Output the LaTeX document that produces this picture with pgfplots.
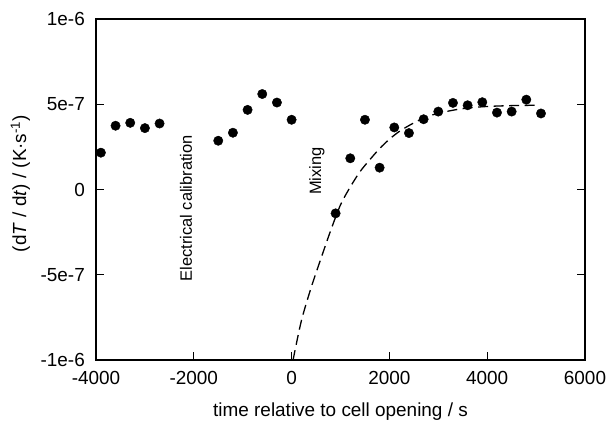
\documentclass[border=0pt]{standalone}
\usepackage{fontspec}
\setmainfont{Liberation Sans}
\usepackage{pgfplots}
\pgfplotsset{compat=1.18}

% measured dots
\pgfplotstableread{
t      r
-3900  2.16e-7
-3600  3.74e-7
-3300  3.91e-7
-3000  3.60e-7
-2700  3.87e-7
-1500  2.86e-7
-1200  3.33e-7
-900   4.67e-7
-600   5.60e-7
-300   5.10e-7
0      4.09e-7
900   -1.40e-7
1200   1.83e-7
1500   4.09e-7
1800   1.28e-7
2100   3.64e-7
2400   3.31e-7
2700   4.12e-7
3000   4.57e-7
3300   5.08e-7
3600   4.94e-7
3900   5.12e-7
4200   4.51e-7
4500   4.57e-7
4800   5.27e-7
5100   4.46e-7
}\dots

% dashed fit
\pgfplotstableread{
t      r
30    -10.0e-7
200   -7.70e-7
400   -5.75e-7
600   -4.05e-7
800   -2.40e-7
1000  -0.90e-7
1200   0.15e-7
1400   1.05e-7
1600   1.75e-7
1800   2.40e-7
2000   2.95e-7
2200   3.40e-7
2400   3.75e-7
2600   4.05e-7
2800   4.30e-7
3000   4.47e-7
3300   4.65e-7
3600   4.78e-7
4000   4.87e-7
4500   4.92e-7
4980   4.94e-7
}\fit

\begin{document}
\begin{tikzpicture}
\begin{axis}[
    name=ax,
    scale only axis,
    width=489bp, height=341bp,
    xmin=-4000, xmax=6000, ymin=-1e-6, ymax=1e-6,
    scaled y ticks=false, scaled x ticks=false,
    xtick={-4000,-2000,0,2000,4000,6000},
    xticklabels={-4000,-2000,0,2000,4000,6000},
    ytick={-1e-6,-5e-7,0,5e-7,1e-6},
    yticklabels={-1e-6,-5e-7,0,5e-7,1e-6},
    tick align=inside,
    xtick pos=left, ytick pos=both,
    xticklabel pos=left, yticklabel pos=left,
    major tick length=7.7bp,
    axis line style={line width=1.1bp},
    tick style={line width=1.1bp, black},
    every tick label/.append style={font=\fontsize{19}{22}\selectfont, inner sep=0pt},
    xticklabel style={anchor=center, yshift=-18bp},
    yticklabel style={anchor=east, xshift=-11bp},
    label style={font=\fontsize{19}{22}\selectfont},
    xlabel={time relative to cell opening / s},
    ylabel={(d\textit{T} / d\textit{t}) / (K·s\textsuperscript{-1})},
    xlabel style={at={(axis description cs:0.5,-0.1525)}, anchor=center},
    ylabel style={at={(axis description cs:-0.1544,0.5176)}, anchor=center, rotate=0},
    clip=true,
]
\addplot[only marks, mark=*, mark size=4.7bp, black] table[x=t, y=r] {\dots};
\addplot[black, line width=1.3bp, dash pattern=on 10bp off 5.5bp, smooth] table[x=t, y=r] {\fit};
\node[rotate=90, anchor=west, inner sep=0pt, font=\fontsize{16.5}{19}\selectfont]
    at (axis cs:-2160,-0.54e-6) {Electrical calibration};
\node[rotate=90, anchor=west, inner sep=0pt, font=\fontsize{16.5}{19}\selectfont]
    at (axis cs:517,-0.032e-6) {Mixing};
\end{axis}
\pgfresetboundingbox
\path ([shift={(-96bp,-64bp)}]ax.south west) rectangle ([shift={(21bp,19bp)}]ax.north east);
\end{tikzpicture}
\end{document}
